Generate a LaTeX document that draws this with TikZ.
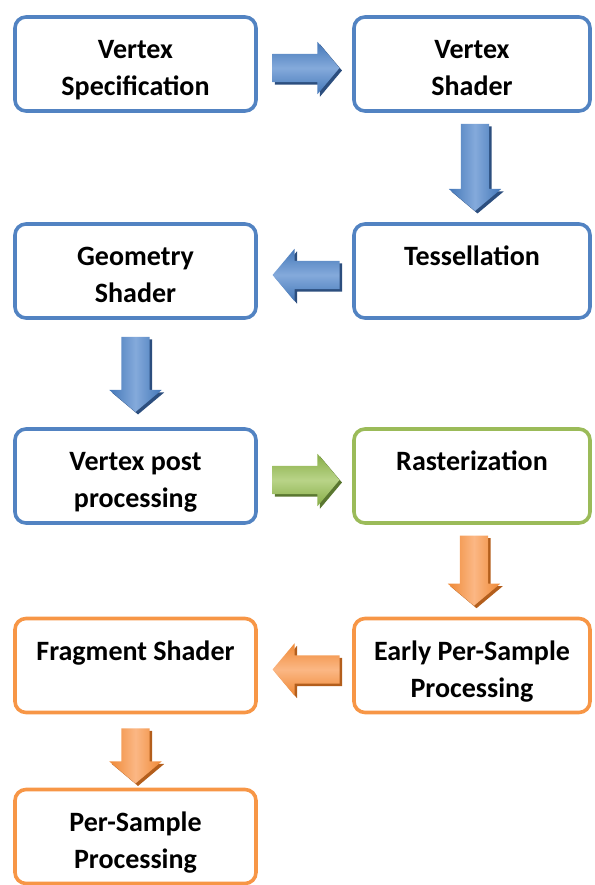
\documentclass[tikz,border=0pt]{standalone}
\usepackage{fontspec}
\setmainfont{Carlito}
\usetikzlibrary{shapes.arrows,shadows,calc}

\definecolor{bluebrd}{HTML}{5283C2}
\definecolor{greenbrd}{HTML}{9BBB59}
\definecolor{orangebrd}{HTML}{F79646}
\definecolor{blueedge}{HTML}{4477B8}
\definecolor{bluemid}{HTML}{84AADB}
\definecolor{blueshad}{HTML}{2C4E7E}
\definecolor{greenedge}{HTML}{86AC45}
\definecolor{greenmid}{HTML}{B9D488}
\definecolor{greenshad}{HTML}{5A7730}
\definecolor{orangeedge}{HTML}{EF8936}
\definecolor{orangemid}{HTML}{FBB784}
\definecolor{orangeshad}{HTML}{B35E1C}

% strut giving every text line the same height and depth
\newcommand\tstrut{\rule[-5.5pt]{0pt}{37pt}}

\tikzset{
  stage/.style={draw=#1, line width=3.6pt, rounded corners=11pt, fill=white,
    align=center, inner sep=0pt, minimum height=94pt,
    font=\fontsize{28}{37}\selectfont\bfseries},
  leftcol/.style={minimum width=241pt},
  rightcol/.style={minimum width=236pt},
  fatarrow/.style={single arrow, draw=none, inner sep=14pt,
    single arrow head extend=12pt, single arrow tip angle=100},
  horiz/.style={fatarrow, minimum height=67pt},
  blueH/.style={horiz, top color=blueedge, bottom color=blueedge, middle color=bluemid,
    drop shadow={shadow xshift=2.5pt, shadow yshift=-2.5pt, fill=blueshad, opacity=1}},
  greenH/.style={horiz, top color=greenedge, bottom color=greenedge, middle color=greenmid,
    drop shadow={shadow xshift=2.5pt, shadow yshift=-2.5pt, fill=greenshad, opacity=1}},
  orangeH/.style={horiz, top color=orangeedge, bottom color=orangeedge, middle color=orangemid,
    drop shadow={shadow xshift=2.5pt, shadow yshift=-2.5pt, fill=orangeshad, opacity=1}},
  blueV/.style={fatarrow, shape border rotate=270, left color=blueedge, right color=blueedge, middle color=bluemid,
    drop shadow={shadow xshift=2.5pt, shadow yshift=-2.5pt, fill=blueshad, opacity=1}},
  orangeV/.style={fatarrow, shape border rotate=270, left color=orangeedge, right color=orangeedge, middle color=orangemid,
    drop shadow={shadow xshift=2.5pt, shadow yshift=-2.5pt, fill=orangeshad, opacity=1}},
}

\begin{document}
\begin{tikzpicture}[x=1pt, y=-1pt]
\useasboundingbox (0,0) rectangle (594,885);

% pipeline stages
\node[stage=bluebrd, leftcol]  (vspec) at (135.5,64)  {\tstrut Vertex\\\tstrut Specification};
\node[stage=bluebrd, rightcol] (vsh)   at (472,64)    {\tstrut Vertex\\\tstrut Shader};
\node[stage=bluebrd, rightcol] (tess)  at (472,271)   {\tstrut Tessellation\\\tstrut};
\node[stage=bluebrd, leftcol]  (geo)   at (135.5,271) {\tstrut Geometry\\\tstrut Shader};
\node[stage=bluebrd, leftcol]  (vpost) at (135.5,476) {\tstrut Vertex post\\\tstrut processing};
\node[stage=greenbrd, rightcol] (rast) at (472,476)   {\tstrut Rasterization\\\tstrut};
\node[stage=orangebrd, rightcol] (early) at (472,665.5) {\tstrut Early Per-Sample\\\tstrut Processing};
\node[stage=orangebrd, leftcol] (frag)  at (135.5,665.5) {\tstrut Fragment Shader\\\tstrut};
\node[stage=orangebrd, leftcol] (psamp) at (135.5,836.5) {\tstrut Per-Sample\\\tstrut Processing};

% block arrows between the stages
\node[blueH] (a1) at ($(vspec.east)!0.5!(vsh.west)+(-5,4)$) {};
\node[blueV, minimum height=87pt] (a2) at ($(vsh.south)!0.5!(tess.north)+(3,-6)$) {};
\node[blueH, shape border rotate=180] (a3) at ($(tess.west)!0.5!(geo.east)+(7,4)$) {};
\node[blueV, minimum height=75pt] (a4) at ($(geo.south)!0.5!(vpost.north)+(0,-5)$) {};
\node[greenH] (a5) at ($(vpost.east)!0.5!(rast.west)+(-5,4)$) {};
\node[orangeV, minimum height=70pt] (a6) at ($(rast.south)!0.5!(early.north)+(2,-6)$) {};
\node[orangeH, shape border rotate=180] (a7) at ($(early.west)!0.5!(frag.east)+(7,4)$) {};
\node[orangeV, minimum height=55pt] (a8) at ($(frag.south)!0.5!(psamp.north)+(0,-1)$) {};
\end{tikzpicture}
\end{document}
